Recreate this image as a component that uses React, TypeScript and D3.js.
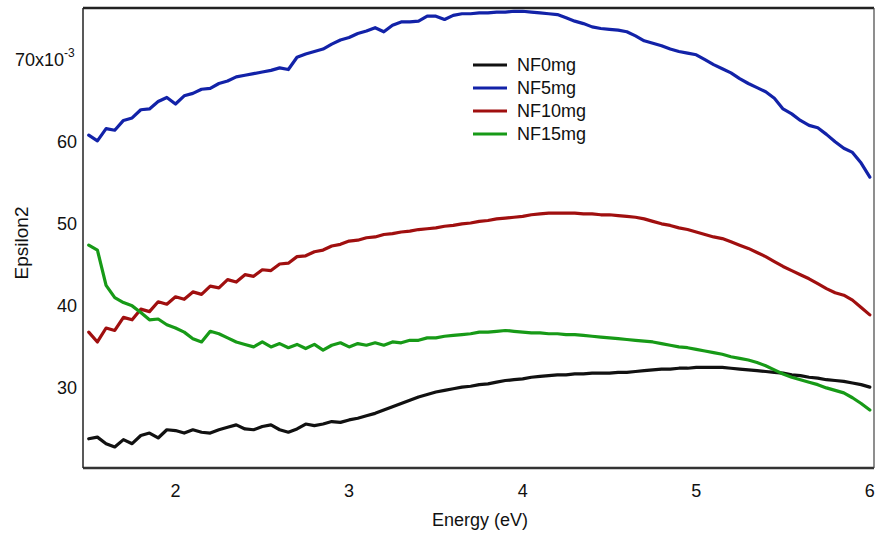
import React from "react";
import * as d3 from "d3";

// photon energy grid (eV)
const energy = [
  1.5, 1.55, 1.6, 1.65, 1.7, 1.75, 1.8, 1.85, 1.9, 1.95,
  2.0, 2.05, 2.1, 2.15, 2.2, 2.25, 2.3, 2.35, 2.4, 2.45,
  2.5, 2.55, 2.6, 2.65, 2.7, 2.75, 2.8, 2.85, 2.9, 2.95,
  3.0, 3.05, 3.1, 3.15, 3.2, 3.25, 3.3, 3.35, 3.4, 3.45,
  3.5, 3.55, 3.6, 3.65, 3.7, 3.75, 3.8, 3.85, 3.9, 3.95,
  4.0, 4.05, 4.1, 4.15, 4.2, 4.25, 4.3, 4.35, 4.4, 4.45,
  4.5, 4.55, 4.6, 4.65, 4.7, 4.75, 4.8, 4.85, 4.9, 4.95,
  5.0, 5.05, 5.1, 5.15, 5.2, 5.25, 5.3, 5.35, 5.4, 5.45,
  5.5, 5.55, 5.6, 5.65, 5.7, 5.75, 5.8, 5.85, 5.9, 5.95, 6.0,
];

// epsilon2 (x10^-3)
const nf0 = [
  23.8, 24.0, 23.2, 22.8, 23.7, 23.2, 24.2, 24.5, 23.9, 24.9,
  24.8, 24.5, 24.9, 24.6, 24.5, 24.9, 25.2, 25.5, 25.0, 24.9,
  25.3, 25.5, 24.9, 24.6, 25.0, 25.6, 25.4, 25.6, 25.9, 25.8,
  26.1, 26.3, 26.6, 26.9, 27.3, 27.7, 28.1, 28.5, 28.9, 29.2,
  29.5, 29.7, 29.9, 30.1, 30.2, 30.4, 30.5, 30.7, 30.9, 31.0,
  31.1, 31.3, 31.4, 31.5, 31.6, 31.6, 31.7, 31.7, 31.8, 31.8,
  31.8, 31.9, 31.9, 32.0, 32.1, 32.2, 32.3, 32.3, 32.4, 32.4,
  32.5, 32.5, 32.5, 32.5, 32.4, 32.3, 32.2, 32.1, 32.0, 31.9,
  31.8, 31.6, 31.5, 31.3, 31.2, 31.0, 30.9, 30.8, 30.6, 30.4, 30.1,
];

const nf5 = [
  60.8, 60.1, 61.6, 61.4, 62.6, 62.9, 63.9, 64.0, 64.9, 65.4,
  64.6, 65.6, 65.9, 66.4, 66.5, 67.1, 67.4, 67.9, 68.1, 68.3,
  68.5, 68.7, 69.0, 68.8, 70.3, 70.7, 71.0, 71.3, 71.9, 72.4,
  72.7, 73.2, 73.5, 73.9, 73.4, 74.2, 74.6, 74.6, 74.7, 75.3,
  75.3, 74.9, 75.4, 75.6, 75.6, 75.7, 75.7, 75.8, 75.8, 75.9,
  75.9, 75.8, 75.7, 75.6, 75.5, 75.1, 74.7, 74.4, 74.0, 73.8,
  73.7, 73.6, 73.4, 72.9, 72.3, 72.0, 71.7, 71.3, 71.0, 70.8,
  70.6, 70.0, 69.4, 68.9, 68.4, 67.7, 67.1, 66.6, 66.1, 65.3,
  64.0, 63.4, 62.6, 62.0, 61.7, 60.9, 60.0, 59.2, 58.7, 57.4, 55.7,
];

const nf10 = [
  36.8, 35.6, 37.3, 37.0, 38.6, 38.3, 39.6, 39.3, 40.5, 40.2,
  41.1, 40.8, 41.7, 41.4, 42.4, 42.2, 43.2, 42.9, 43.8, 43.6,
  44.4, 44.3, 45.1, 45.2, 46.0, 46.1, 46.6, 46.8, 47.3, 47.5,
  47.9, 48.0, 48.3, 48.4, 48.7, 48.8, 49.0, 49.1, 49.3, 49.4,
  49.5, 49.7, 49.8, 50.0, 50.1, 50.3, 50.4, 50.6, 50.7, 50.8,
  50.9, 51.1, 51.2, 51.3, 51.3, 51.3, 51.3, 51.2, 51.2, 51.1,
  51.1, 51.0, 50.9, 50.8, 50.6, 50.3, 50.0, 49.8, 49.5, 49.3,
  49.0, 48.7, 48.4, 48.2, 47.8, 47.4, 47.0, 46.5, 46.0, 45.4,
  44.8, 44.3, 43.8, 43.3, 42.7, 42.1, 41.6, 41.3, 40.7, 39.8, 38.9,
];

const nf15 = [
  47.4, 46.8, 42.5, 41.0, 40.4, 40.0, 39.2, 38.3, 38.4, 37.7,
  37.3, 36.8, 36.0, 35.6, 36.9, 36.6, 36.1, 35.6, 35.3, 35.0,
  35.6, 35.0, 35.4, 34.9, 35.3, 34.8, 35.3, 34.6, 35.2, 35.5,
  35.0, 35.4, 35.2, 35.5, 35.2, 35.6, 35.5, 35.8, 35.8, 36.1,
  36.1, 36.3, 36.4, 36.5, 36.6, 36.8, 36.8, 36.9, 37.0, 36.9,
  36.8, 36.7, 36.7, 36.6, 36.6, 36.5, 36.5, 36.4, 36.3, 36.2,
  36.1, 36.0, 35.9, 35.8, 35.7, 35.6, 35.4, 35.2, 35.0, 34.9,
  34.7, 34.5, 34.3, 34.1, 33.8, 33.6, 33.4, 33.1, 32.7, 32.2,
  31.7, 31.3, 31.0, 30.7, 30.4, 30.0, 29.7, 29.4, 28.8, 28.1, 27.3,
];

const seriesNames = ["NF0mg", "NF5mg", "NF10mg", "NF15mg"];
const seriesValues = [nf0, nf5, nf10, nf15];
const colors = ["#111111", "#1222a8", "#a00f0f", "#179a17"];

const xTicks = [2, 3, 4, 5, 6];
const yTicks = [30, 40, 50, 60, 70];

const W = 875;
const H = 535;
const left = 83;
const right = 874;
const top = 8;
const bottom = 468;
const font = "Arial, 'Liberation Sans', sans-serif";

export default function App() {
  const x = d3.scaleLinear().domain([1.467, 6.024]).range([left, right]);
  const y = d3.scaleLinear().domain([20.24, 76.3]).range([bottom, top]);

  const line = d3
    .line<number>()
    .x((_, i) => x(energy[i]))
    .y((d) => y(d));

  return (
    <svg
      width={W}
      height={H}
      style={{ position: "absolute", left: 0, top: 0, background: "#fff" }}
    >
      <g fill="none" strokeLinejoin="round" strokeLinecap="round">
        {seriesValues.map((vals, i) => (
          <path key={seriesNames[i]} d={line(vals) || ""} stroke={colors[i]} strokeWidth={3.2} />
        ))}
      </g>

      {/* frame */}
      <line x1={left} x2={right} y1={top} y2={top} stroke="#222" strokeWidth={2.5} />
      <line x1={left} x2={right} y1={bottom} y2={bottom} stroke="#333" strokeWidth={2.5} />
      <line x1={left} x2={left} y1={top} y2={bottom} stroke="#222" strokeWidth={1.5} />
      <line x1={right} x2={right} y1={top} y2={bottom} stroke="#444" strokeWidth={1.2} />

      {/* x tick labels */}
      <g fontFamily={font} fontSize={18} fill="#111" textAnchor="middle">
        {xTicks.map((t) => (
          <text key={t} x={x(t)} y={497}>
            {t}
          </text>
        ))}
      </g>

      {/* y tick labels */}
      <g fontFamily={font} fontSize={18} fill="#111">
        {yTicks.map((t) =>
          t === 70 ? (
            <text key={t} x={15} y={y(t) + 6}>
              70x10
              <tspan fontSize={12} dy={-9}>
                -3
              </tspan>
            </text>
          ) : (
            <text key={t} x={77} y={y(t) + 6} textAnchor="end">
              {t}
            </text>
          )
        )}
      </g>

      <text x={480} y={526} fontFamily={font} fontSize={18} fill="#111" textAnchor="middle">
        Energy (eV)
      </text>
      <text
        transform={`translate(28, 243) rotate(-90)`}
        fontFamily={font}
        fontSize={19}
        fill="#111"
        textAnchor="middle"
      >
        Epsilon2
      </text>

      {/* legend */}
      <g fontFamily={font} fontSize={18} fill="#111">
        {seriesNames.map((n, i) => (
          <g key={n} transform={`translate(473, ${65 + i * 23})`}>
            <line x1={0} x2={34} y1={0} y2={0} stroke={colors[i]} strokeWidth={3} />
            <text x={44} y={6}>
              {n}
            </text>
          </g>
        ))}
      </g>
    </svg>
  );
}
